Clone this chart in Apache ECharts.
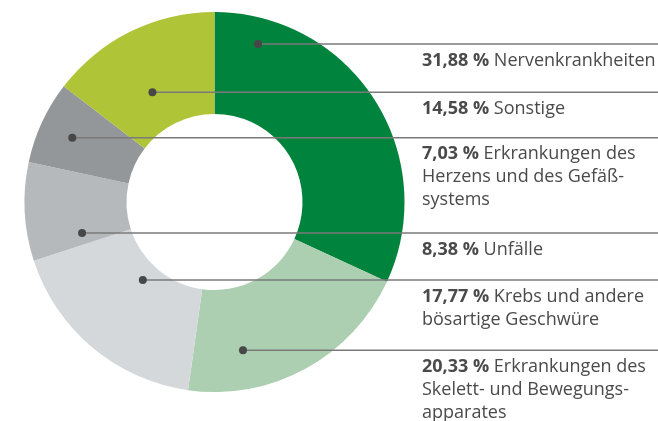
<!DOCTYPE html>
<html>
<head>
<meta charset="utf-8">
<style>
  html, body { margin: 0; padding: 0; background: #fff; }
  #main { width: 658px; height: 421px; }
</style>
<script src="https://cdn.jsdelivr.net/npm/echarts@6/dist/echarts.min.js"></script>
</head>
<body>
<div id="main"></div>
<script>
// Daten (Reihenfolge im Uhrzeigersinn ab 12 Uhr)
var categories = [
  'Nervenkrankheiten',
  'Erkrankungen des\nSkelett- und Bewegungs-\napparates',
  'Krebs und andere\nbösartige Geschwüre',
  'Unfälle',
  'Erkrankungen des\nHerzens und des Gefäß-\nsystems',
  'Sonstige'
]
var values = [31.88, 20.33, 17.77, 8.38, 7.03, 14.58]
var valueLabels = ['31,88 %', '20,33 %', '17,77 %', '8,38 %', '7,03 %', '14,58 %']

var colors = ['#00833c', '#abcfb0', '#d4d8db', '#b5b9bc', '#939799', '#afc437']

// Position der Punkte innerhalb des Segments (Anteil am Winkel, Radius in px)
var dotFrac = [0.134, 0.742, 0.54, 0.161, 0.478, 0.438]
var dotRadius = [164, 151, 106, 136, 156, 126]

var cx = 214.5, cy = 202
var rInner = 88, rOuter = 190
var lineEnd = 658
var labelX = 422

// Punkte aus den Segmentwinkeln berechnen
var total = values.reduce((a, b) => a + b, 0)
var dots = []
var acc = 0
values.forEach((v, i) => {
  var sweep = v / total * 360
  var ang = (acc + sweep * dotFrac[i]) * Math.PI / 180
  dots.push([cx + dotRadius[i] * Math.sin(ang), cy - dotRadius[i] * Math.cos(ang)])
  acc += sweep
})

var chartDom = document.getElementById('main');
var myChart = echarts.init(chartDom);
var option;

// Hinweislinien + Punkte über dem Ring
var guides = []
dots.forEach(p => {
  guides.push({
    type: 'line',
    z: 100,
    shape: { x1: p[0], y1: p[1], x2: lineEnd, y2: p[1] },
    style: { stroke: '#7a7a7a', lineWidth: 1.5 }
  })
  guides.push({
    type: 'circle',
    z: 101,
    shape: { cx: p[0], cy: p[1], r: 4 },
    style: { fill: '#474747' }
  })
})

option = {
  animation: false,
  color: colors,
  textStyle: {
    fontFamily: '"Open Sans", "Noto Sans", sans-serif'
  },
  graphic: guides,
  series: [
    {
      type: 'pie',
      center: [cx, cy],
      radius: [rInner, rOuter],
      startAngle: 90,
      clockwise: true,
      avoidLabelOverlap: false,
      itemStyle: {
        borderWidth: 0
      },
      emphasis: { disabled: true },
      label: {
        show: true,
        position: 'outside',
        color: '#4a4a4a',
        fontSize: 18,
        lineHeight: 23,
        formatter: p => {
          var lines = categories[p.dataIndex].split('\n')
          var s = '{b|' + valueLabels[p.dataIndex] + '} {n|' + lines[0] + '}'
          for (var k = 1; k < lines.length; k++) {
            s += '\n{n|' + lines[k] + '}'
          }
          return s
        },
        rich: {
          b: { fontWeight: 'bold', fontSize: 18, lineHeight: 23, color: '#4a4a4a' },
          n: { fontSize: 18, lineHeight: 23, color: '#4a4a4a' }
        }
      },
      labelLine: {
        show: false
      },
      // Beschriftung rechts unter der jeweiligen Linie
      labelLayout: params => {
        var p = dots[params.dataIndex]
        return {
          x: labelX,
          y: p[1] + 5,
          align: 'left',
          verticalAlign: 'top'
        }
      },
      data: values.map((v, i) => {
        return { value: v, name: categories[i] }
      })
    }
  ]
};

option && myChart.setOption(option);
</script>
</body>
</html>
